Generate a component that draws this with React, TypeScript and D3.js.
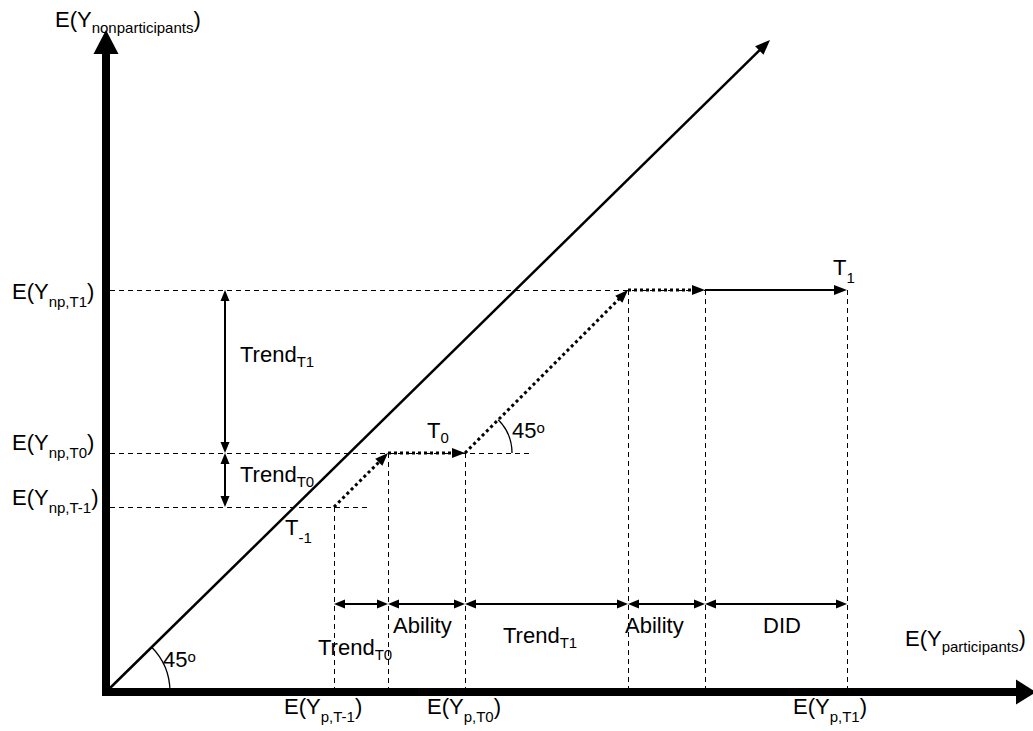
import React from "react";
import * as d3 from "d3";

// ---- data (arbitrary outcome units) ----
const periods = ["T-1", "T0", "T1"];
// E(Y) of nonparticipants per period (vertical axis)
const npValues = [18.5, 23.9, 40.2];
// E(Y) of participants per period (horizontal axis)
const pValues = [22.8, 35.9, 74.1];
const trendT0 = 5.4;
const trendT1 = 16.3;
const ability = 7.7;
const did = 14.2;
// how far each horizontal guide runs to the right
const guideEnds = [26.2, 42.6, 74.1];
const diagonalEnd = [66.4, 65.2];
const axisMax = [93, 66.2];

const yTickSubs = ["np,T-1", "np,T0", "np,T1"];
const xTickSubs = ["p,T-1", "p,T0", "p,T1"];
const bottomSegLabels = [
  ["Trend", "T0"],
  ["Ability", ""],
  ["Trend", "T1"],
  ["Ability", ""],
  ["DID", ""],
];

const FONT = "'Liberation Sans', Arial, Helvetica, sans-serif";

function headPts(x1: number, y1: number, x2: number, y2: number, len: number, w: number) {
  const dx = x2 - x1, dy = y2 - y1;
  const L = Math.hypot(dx, dy);
  const ux = dx / L, uy = dy / L;
  const bx = x2 - ux * len, by = y2 - uy * len;
  const nx = -uy, ny = ux;
  return `${x2},${y2} ${bx + nx * w / 2},${by + ny * w / 2} ${bx - nx * w / 2},${by - ny * w / 2}`;
}

function shorten(x1: number, y1: number, x2: number, y2: number, d: number) {
  const dx = x2 - x1, dy = y2 - y1;
  const L = Math.hypot(dx, dy);
  return [x2 - (dx / L) * d, y2 - (dy / L) * d];
}

function Arrow({ x1, y1, x2, y2, len = 12, w = 10, sw = 2, dash, both = false }: any) {
  const [ex, ey] = shorten(x1, y1, x2, y2, len * 0.8);
  const [sx, sy] = both ? shorten(x2, y2, x1, y1, len * 0.8) : [x1, y1];
  return (
    <g>
      <line x1={sx} y1={sy} x2={ex} y2={ey} stroke="#000" strokeWidth={sw} strokeDasharray={dash} />
      <polygon points={headPts(x1, y1, x2, y2, len, w)} fill="#000" />
      {both && <polygon points={headPts(x2, y2, x1, y1, len, w)} fill="#000" />}
    </g>
  );
}

function Lbl({ x, y, main, sub, tail, size = 22, subSize = 15, dy = 7 }: any) {
  return (
    <text x={x} y={y} fontSize={size} fontFamily={FONT} fill="#000">
      {main}
      {sub ? (
        <tspan fontSize={subSize} dy={dy}>
          {sub}
        </tspan>
      ) : null}
      {tail ? (
        <tspan fontSize={size} dy={sub ? -dy : 0}>
          {tail}
        </tspan>
      ) : null}
    </text>
  );
}

function Deg({ x, y }: any) {
  return (
    <text x={x} y={y} fontSize={22} fontFamily={FONT}>
      45
      <tspan fontSize={15} dy={-5}>
        o
      </tspan>
    </text>
  );
}

export default function App() {
  const W = 1033, H = 731;
  const x = d3.scaleLinear().domain([0, axisMax[0]]).range([106, 1036]);
  const y = d3.scaleLinear().domain([0, axisMax[1]]).range([692, 30]);

  // path of the participants
  const b0 = pValues[0];
  const b1 = b0 + trendT0;
  const b2 = b1 + ability; // = pValues[1]
  const b3 = b2 + trendT1;
  const b4 = b3 + ability;
  const b5 = b4 + did; // = pValues[2]
  const breaks = [b0, b1, b2, b3, b4, b5];
  const pts: [number, number][] = [
    [b0, npValues[0]],
    [b1, npValues[1]],
    [b2, npValues[1]],
    [b3, npValues[2]],
    [b4, npValues[2]],
    [b5, npValues[2]],
  ];
  const P = pts.map(([a, b]) => [x(a), y(b)]);
  const vTops = [npValues[0], npValues[1], npValues[1], npValues[2], npValues[2], npValues[2]];

  const x0 = x(0), y0 = y(0);
  const dash = "5,4";
  const dot = "3,3";
  const crisp = (v: number) => Math.round(v) + 0.5;

  // 45 degree arcs
  const arcPath = (cx: number, cy: number, r: number) => {
    const p = d3.path();
    p.moveTo(cx + r, cy);
    p.arc(cx, cy, r, 0, -Math.PI / 4, true);
    return p.toString();
  };

  const vArrowX = 225;
  const hArrowY = 604;
  const segLabelOffsets = [
    [-16, 655],
    [5, 633],
    [38, 643],
    [-3, 633],
    [58, 633],
  ];
  const yLabelBase = [505, 450, 299];
  const xLabelOffsets = [-50, -38, -54];

  return (
    <svg
      width={W}
      height={H}
      viewBox={`0 0 ${W} ${H}`}
      style={{ position: "absolute", left: 0, top: 0, background: "#fff" }}
    >
      {/* horizontal guides */}
      {npValues.map((v, i) => (
        <line key={"hg" + i} x1={x0 + 4} x2={x(guideEnds[i])} y1={crisp(y(v))} y2={crisp(y(v))} stroke="#000" strokeWidth={1} strokeDasharray={dash} />
      ))}
      {/* vertical guides */}
      {breaks.map((b, i) => (
        <line key={"vg" + i} x1={crisp(x(b))} x2={crisp(x(b))} y1={y(vTops[i])} y2={y0 - 4} stroke="#000" strokeWidth={1} strokeDasharray={dash} />
      ))}

      {/* 45 degree line */}
      <Arrow x1={x0 + 1} y1={y0 - 1} x2={x(diagonalEnd[0])} y2={y(diagonalEnd[1])} len={15} w={12} sw={2.5} />

      {/* dotted path */}
      {[0, 1, 2, 3].map((i) => (
        <Arrow key={"dp" + i} x1={P[i][0]} y1={P[i][1]} x2={P[i + 1][0]} y2={P[i + 1][1]} len={13} w={10} sw={3} dash={dot} />
      ))}
      {/* DID solid */}
      <Arrow x1={P[4][0]} y1={P[4][1]} x2={P[5][0]} y2={P[5][1]} len={13} w={10} sw={2} />

      {/* vertical trend arrows */}
      <Arrow x1={vArrowX} y1={y(npValues[1])} x2={vArrowX} y2={y(npValues[2])} len={11} w={9} sw={2} both />
      <Arrow x1={vArrowX} y1={y(npValues[0])} x2={vArrowX} y2={y(npValues[1])} len={11} w={9} sw={2} both />

      {/* horizontal decomposition arrows */}
      {breaks.slice(0, -1).map((b, i) => (
        <Arrow key={"ha" + i} x1={x(b)} y1={hArrowY} x2={x(breaks[i + 1])} y2={hArrowY} len={11} w={9} sw={2} both />
      ))}

      {/* arcs */}
      <path d={arcPath(P[2][0], P[2][1], 47)} fill="none" stroke="#000" strokeWidth={1.3} />
      <path d={arcPath(x0, y0, 64)} fill="none" stroke="#000" strokeWidth={1.3} />

      {/* axes */}
      <line x1={x0} x2={x0} y1={y0 + 4} y2={y(axisMax[1]) + 22} stroke="#000" strokeWidth={8} />
      <polygon points={`${x0 - 12.5},${y(axisMax[1]) + 24} ${x0 + 12.5},${y(axisMax[1]) + 24} ${x0},${y(axisMax[1])}`} fill="#000" />
      <line x1={x0 - 4} x2={x(axisMax[0]) - 18} y1={y0} y2={y0} stroke="#000" strokeWidth={8} />
      <polygon points={`${x(axisMax[0]) - 20},${y0 - 12.5} ${x(axisMax[0]) - 20},${y0 + 12.5} ${x(axisMax[0])},${y0}`} fill="#000" />

      {/* axis titles */}
      <Lbl x={55} y={27} main="E(Y" sub="nonparticipants" tail=")" dy={6} />
      <Lbl x={905} y={646} main="E(Y" sub="participants" tail=")" dy={6} />

      {/* y tick labels */}
      {npValues.map((v, i) => (
        <Lbl key={"yl" + i} x={12} y={yLabelBase[i]} main="E(Y" sub={yTickSubs[i]} tail=")" dy={8} />
      ))}
      {/* x tick labels */}
      {pValues.map((v, i) => (
        <Lbl key={"xl" + i} x={x(v) + xLabelOffsets[i]} y={714} main="E(Y" sub={xTickSubs[i]} tail=")" dy={8} />
      ))}

      {/* trend labels near vertical arrows */}
      <Lbl x={vArrowX + 15} y={362} main="Trend" sub="T1" dy={5} />
      <Lbl x={vArrowX + 15} y={482} main="Trend" sub="T0" dy={5} />

      {/* period labels */}
      <Lbl x={P[0][0] - 49} y={535} main="T" sub="-1" dy={8} />
      <Lbl x={P[2][0] - 38} y={438} main="T" sub="0" dy={5} />
      <Lbl x={P[5][0] - 14} y={275} main="T" sub="1" dy={8} />

      {/* bottom segment labels */}
      {bottomSegLabels.map(([m, s], i) => (
        <Lbl key={"bl" + i} x={x(breaks[i]) + segLabelOffsets[i][0]} y={segLabelOffsets[i][1]} main={m} sub={s} dy={5} />
      ))}

      <Deg x={P[2][0] + 47} y={438} />
      <Deg x={x0 + 57} y={667} />
      <title>{periods.join(", ")}</title>
    </svg>
  );
}
